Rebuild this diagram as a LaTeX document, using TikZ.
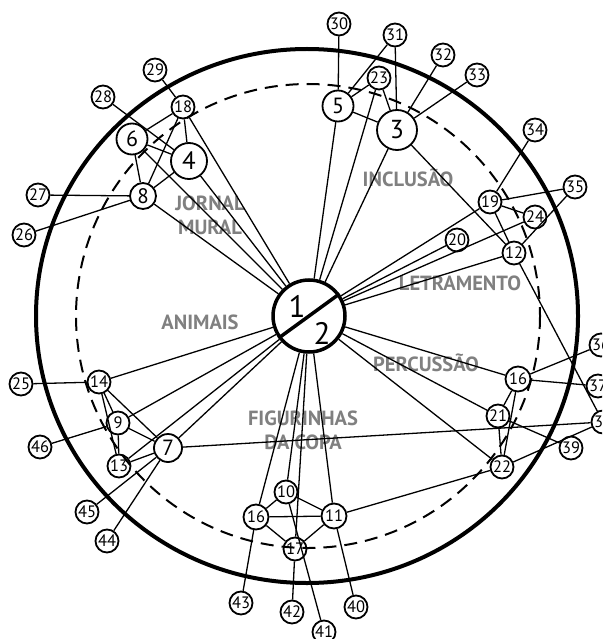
\documentclass[tikz,border=0pt]{standalone}
\usepackage{fontspec}
\setmainfont{PT Sans}
\begin{document}
\begin{tikzpicture}[x=1pt,y=-1pt,
  e/.style={line width=1.3pt},
  n/.style={circle,draw,line width=1.8pt,inner sep=0pt,minimum size=23pt,font=\fontsize{16.5}{16.5}\selectfont},
  nm/.style={n,minimum size=25pt},
  nb/.style={n,font=\fontsize{22}{22}\selectfont},
  lbl/.style={text=black!50,font=\bfseries\fontsize{20.5}{24}\selectfont,align=center,inner sep=0pt}]
\fill[white] (0,0) rectangle (602,639);
\clip (0,0) rectangle (602,639);
% circles
\draw[line width=4pt] (307,316) ellipse [x radius=271, y radius=267];
\draw[line width=2pt,dash pattern=on 13pt off 8pt] (308,316) circle [radius=232];
% labels
\node[lbl] (lj) at (210,215) {JORNAL\\MURAL};
\node[lbl] (li) at (408,178) {INCLUSÃO};
\node[lbl] (lt) at (460,283) {LETRAMENTO};
\node[lbl] (la) at (200,322) {ANIMAIS};
\node[lbl] (lp) at (426,363) {PERCUSSÃO};
\node[lbl] (lf) at (303,430) {FIGURINHAS\\DA COPA};
% center
\node[circle,draw,line width=3.5pt,minimum size=72pt,inner sep=0pt] (c) at (309,316) {};
\draw[line width=3.5pt] (c.216) -- (c.36);
\node[font=\fontsize{31}{31}\selectfont,inner sep=0pt] (c1) at (297,306) {1};
\node[font=\fontsize{31}{31}\selectfont,inner sep=0pt] (c2) at (322,333) {2};
% nodes
\node[nb,minimum size=40pt,font=\fontsize{26}{26}\selectfont] (n3) at (397,130) {3};
\node[nb,minimum size=36pt,font=\fontsize{25}{25}\selectfont] (n4) at (189,161) {4};
\node[nb,minimum size=31pt] (n5) at (338,106) {5};
\node[nb,minimum size=31pt] (n6) at (132,139) {6};
\node[nb,minimum size=28pt] (n7) at (168,448) {7};
\node[nb,minimum size=26pt,font=\fontsize{21}{21}\selectfont] (n8) at (143,196) {8};
\node[n] (n9) at (118,423) {9};
\node[n] (n10) at (286,492) {10};
\node[nm] (n11) at (334,516) {11};
\node[n] (n12) at (514,253) {12};
\node[n] (n13) at (119,466) {13};
\node[n] (n14) at (99,382) {14};
\node[nm] (n16b) at (256,517) {16};
\node[nm] (n16r) at (518,379) {16};
\node[n] (n17) at (295,549) {17};
\node[n] (n18) at (183,107) {18};
\node[n] (n19) at (490,202) {19};
\node[n] (n20) at (457,240) {20};
\node[n] (n21) at (498,416) {21};
\node[n] (n22) at (502,467) {22};
\node[n] (n23) at (379,78) {23};
\node[n] (n24) at (535,217) {24};
\node[n] (n25) at (21,384) {25};
\node[n] (n26) at (24,235) {26};
\node[n] (n27) at (38,195) {27};
\node[n] (n28) at (103,97) {28};
\node[n] (n29) at (155,70) {29};
\node[n] (n30) at (339,24) {30};
\node[n] (n31) at (395,35) {31};
\node[n] (n32) at (443,55) {32};
\node[n] (n33) at (477,75) {33};
\node[n] (n34) at (535,130) {34};
\node[n] (n35) at (575,187) {35};
\node[n] (n36) at (601,345) {36};
\node[n] (n37) at (598,386) {37};
\node[n] (n38) at (603,422) {38};
\node[n] (n39) at (571,448) {39};
\node[n] (n40) at (356,607) {40};
\node[n] (n41) at (324,632) {41};
\node[n] (n42) at (292,612) {42};
\node[n] (n43) at (241,603) {43};
\node[n] (n44) at (107,541) {44};
\node[n] (n45) at (87,512) {45};
\node[n] (n46) at (40,447) {46};
% edges from center
\foreach \t in {n14,n9,n13,n7,n8,n6,n4,n18,n5,n23,n3,n19,n20,n24,n12,n16r,n21,n22,n16b,n10,n17,n11}
  \draw[e] (c) -- (\t);
% other edges
\foreach \a/\b in {n18/n29,n18/n6,n18/n8,n18/n4,n28/n4,n6/n4,n6/n8,n8/n4,n8/n27,n8/n26,
  n30/n5,n31/n5,n31/n3,n23/n5,n23/n3,n32/n3,n33/n3,n5/n3,n3/n12,
  n19/n34,n19/n35,n19/n24,n19/n12,n12/n35,n12/n38,n16r/n36,n16r/n37,n16r/n21,n16r/n22,
  n21/n22,n21/n39,n22/n38,n22/n11,n7/n38,
  n14/n25,n14/n9,n14/n13,n14/n7,n9/n46,n9/n13,n9/n7,n13/n7,n7/n45,n7/n44,
  n10/n16b,n10/n11,n16b/n11,n16b/n17,n11/n17,n16b/n43,n17/n42,n10/n41,n11/n40}
  \draw[e] (\a) -- (\b);
\end{tikzpicture}
\end{document}
